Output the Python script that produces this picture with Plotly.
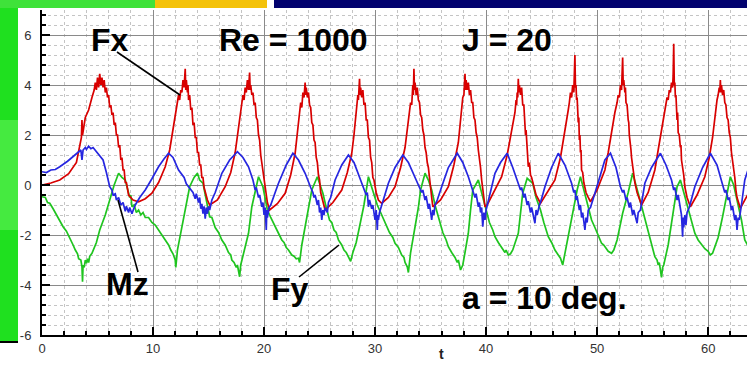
import plotly.graph_objects as go

# ---------------- data: (t, value) ----------------
fx_points = [
    (0.0, 0.0), (0.8, 0.08), (1.6, 0.2), (2.4, 0.45), (3.1, 0.9), (3.4, 1.5), (3.55, 1.9), (3.6, 2.6), (3.65, 2.0),
    (3.9, 2.7), (4.2, 3.0), (4.5, 3.5), (4.7, 3.8), (4.8, 4.1), (4.9, 3.8), (5.0, 4.3), (5.1, 3.9), (5.2, 4.45),
    (5.3, 4.0), (5.4, 4.3), (5.5, 3.9), (5.6, 4.2), (5.7, 3.7), (5.8, 3.9), (5.9, 3.5), (6.0, 3.6), (6.1, 3.1),
    (6.2, 3.2), (6.3, 2.8), (6.4, 2.9), (6.5, 2.4), (6.6, 2.5), (6.7, 2.0), (6.8, 2.0), (6.9, 1.5), (7.0, 1.6),
    (7.1, 1.0), (7.2, 1.1), (7.3, 0.6), (7.4, 0.6), (7.5, 0.1), (7.6, 0.1), (7.8, -0.4), (8.2, -0.6), (8.7, -0.67),
    (9.3, -0.55), (9.9, -0.33), (10.5, 0.1), (11.1, 0.73), (11.5, 1.4), (11.8, 2.2), (12.0, 2.9), (12.2, 3.3),
    (12.3, 3.6), (12.4, 3.4), (12.5, 3.8), (12.6, 3.7), (12.7, 4.2), (12.8, 3.9), (12.9, 4.65), (12.95, 3.8),
    (13.0, 4.2), (13.1, 3.7), (13.15, 4.0), (13.2, 3.4), (13.3, 3.6), (13.4, 3.0), (13.5, 3.1), (13.6, 2.4),
    (13.7, 2.5), (13.8, 1.9), (13.9, 1.9), (14.0, 1.3), (14.1, 1.3), (14.2, 0.8), (14.3, 0.8), (14.4, 0.3),
    (14.5, 0.3), (14.6, -0.1), (14.7, -0.3), (14.9, -0.6), (15.1, -0.8),
    (15.8, -0.6), (16.5, -0.07), (17.0, 0.5), (17.4, 1.3), (17.6, 2.0), (17.8, 2.7), (18.0, 3.2), (18.1, 3.6),
    (18.2, 3.4), (18.3, 3.9), (18.4, 3.7), (18.5, 4.2), (18.6, 3.8), (18.7, 4.5), (18.75, 3.8), (18.8, 4.0),
    (18.9, 3.6), (19.0, 3.7), (19.1, 3.2), (19.2, 3.3), (19.3, 2.7), (19.4, 2.6), (19.5, 2.0), (19.6, 1.8),
    (19.7, 1.2), (19.8, 0.9), (19.9, 0.4), (20.0, 0.3), (20.1, -0.2), (20.3, -0.7), (20.5, -1.0),
    (21.2, -0.75), (21.9, -0.33), (22.4, 0.4), (22.8, 1.27), (23.0, 2.1), (23.2, 2.9), (23.3, 3.3), (23.4, 3.1),
    (23.5, 3.7), (23.6, 3.5), (23.7, 4.1), (23.75, 3.6), (23.8, 3.9), (23.9, 3.5), (24.0, 3.7), (24.1, 3.2),
    (24.2, 3.1), (24.3, 2.5), (24.4, 2.4), (24.5, 1.8), (24.6, 1.7), (24.7, 1.1), (24.8, 0.9), (24.9, 0.4),
    (25.0, 0.2), (25.1, -0.3), (25.3, -0.7), (25.5, -1.0),
    (26.2, -0.7), (27.0, -0.2), (27.5, 0.5), (27.9, 1.27), (28.1, 2.0), (28.2, 2.5), (28.3, 3.0), (28.4, 3.2),
    (28.45, 3.6), (28.5, 3.4), (28.6, 4.25), (28.65, 3.6), (28.7, 3.9), (28.8, 3.5), (28.9, 3.8), (29.0, 3.2),
    (29.1, 3.3), (29.2, 2.6), (29.3, 2.6), (29.4, 1.9), (29.5, 1.8), (29.6, 1.1), (29.7, 0.9), (29.8, 0.3),
    (29.9, 0.2), (30.1, -0.3), (30.3, -0.6), (30.6, -0.73),
    (31.2, -0.5), (31.8, -0.07), (32.3, 0.7), (32.7, 1.5), (33.0, 2.5), (33.1, 2.8), (33.2, 3.3), (33.3, 3.2),
    (33.4, 4.0), (33.45, 3.6), (33.5, 4.65), (33.55, 3.8), (33.6, 4.1), (33.7, 3.6), (33.8, 3.9), (33.9, 3.4),
    (34.0, 3.3), (34.1, 2.8), (34.2, 2.7), (34.3, 2.2), (34.4, 2.0), (34.5, 1.5), (34.6, 1.3), (34.7, 0.9),
    (34.8, 0.7), (34.9, 0.3), (35.0, 0.0), (35.1, -0.5), (35.2, -0.87),
    (35.9, -0.6), (36.6, -0.07), (37.1, 0.8), (37.5, 1.7), (37.7, 2.6), (37.8, 3.0), (37.9, 3.5), (38.0, 3.6),
    (38.1, 4.45), (38.15, 3.8), (38.2, 4.2), (38.3, 3.8), (38.4, 4.1), (38.5, 3.6), (38.6, 3.8), (38.7, 3.3),
    (38.8, 3.3), (38.9, 2.7), (39.0, 2.6), (39.1, 2.1), (39.2, 1.9), (39.3, 1.4), (39.4, 1.1), (39.5, 0.7),
    (39.6, 0.2), (39.7, -0.2), (39.9, -0.87),
    (40.1, -0.8), (40.7, -0.3), (41.4, 0.33), (41.9, 1.2), (42.3, 2.1), (42.6, 2.9), (42.7, 3.4), (42.75, 3.2),
    (42.8, 3.7), (42.85, 3.5), (42.9, 4.25), (42.95, 3.7), (43.0, 4.0), (43.1, 3.6), (43.2, 3.9), (43.3, 3.2),
    (43.4, 3.2), (43.5, 2.6), (43.55, 2.0), (43.6, 2.2), (43.7, 1.4), (43.8, 0.73), (43.9, 0.9), (44.0, 0.4),
    (44.1, 0.3), (44.3, -0.1), (44.5, -0.4), (44.9, -0.73),
    (45.5, -0.3), (46.2, 0.2), (46.7, 1.1), (47.1, 2.1), (47.4, 3.0), (47.5, 3.3), (47.6, 3.7), (47.7, 3.5),
    (47.8, 4.0), (47.9, 3.7), (47.95, 4.3), (48.0, 5.2), (48.05, 3.9), (48.1, 4.0), (48.15, 3.4), (48.2, 3.5),
    (48.3, 2.5), (48.35, 2.7), (48.4, 1.8), (48.45, 2.0), (48.5, 1.3), (48.55, 1.4), (48.6, 0.6), (48.7, 0.5),
    (48.8, 0.1), (49.0, -0.3), (49.2, -0.5), (49.4, -0.67),
    (50.0, -0.2), (50.7, 0.6), (51.0, 1.3), (51.3, 2.2), (51.6, 2.9), (51.8, 3.3), (51.9, 3.6), (52.0, 3.5),
    (52.1, 4.0), (52.2, 3.8), (52.25, 4.3), (52.3, 5.1), (52.35, 4.0), (52.4, 4.2), (52.5, 3.7), (52.55, 3.9),
    (52.6, 3.3), (52.7, 3.2), (52.8, 2.6), (52.85, 2.5), (52.9, 2.0), (53.0, 1.7), (53.05, 1.4), (53.1, 1.1),
    (53.2, 0.73), (53.3, 0.5), (53.4, 0.1), (53.6, -0.3), (53.8, -0.6), (54.0, -0.8),
    (54.6, -0.3), (55.2, 0.6), (55.5, 1.4), (55.8, 2.2), (56.1, 3.0), (56.3, 3.5), (56.4, 3.4), (56.5, 3.8),
    (56.6, 3.7), (56.7, 4.1), (56.8, 3.9), (56.85, 4.4), (56.9, 5.65), (56.95, 4.0), (57.0, 4.1), (57.05, 3.5),
    (57.1, 3.6), (57.2, 2.6), (57.25, 2.9), (57.3, 2.1), (57.4, 2.0), (57.5, 1.5), (57.55, 1.6), (57.6, 1.0),
    (57.7, 0.73), (57.8, 0.4), (57.9, -0.07), (58.1, -0.5), (58.4, -0.87),
    (59.0, -0.4), (59.7, 0.33), (60.1, 1.1), (60.4, 1.9), (60.6, 2.7), (60.8, 3.4), (60.9, 3.6), (61.0, 3.9),
    (61.05, 3.7), (61.1, 4.2), (61.15, 3.7), (61.2, 4.0), (61.3, 3.6), (61.4, 3.8), (61.5, 3.3), (61.6, 3.2),
    (61.7, 2.7), (61.8, 2.6), (61.9, 2.1), (62.0, 1.9), (62.1, 1.3), (62.2, 1.0), (62.3, 0.5), (62.4, 0.3),
    (62.5, -0.2), (62.6, -0.5), (62.9, -0.93), (63.3, -0.6), (63.8, -0.2),
]

mz_points = [
    (0.0, 0.53), (0.4, 0.5), (0.8, 0.6), (1.2, 0.62), (1.6, 0.73), (2.0, 0.85), (2.3, 0.95), (2.7, 1.1), (3.0, 1.2),
    (3.3, 1.3), (3.5, 1.4), (3.6, 1.0), (3.7, 1.4), (3.9, 1.5), (4.0, 1.42), (4.2, 1.55), (4.4, 1.45), (4.6, 1.5),
    (4.9, 1.33), (5.2, 1.2), (5.5, 1.0), (5.8, 0.5), (6.1, -0.07), (6.3, -0.2), (6.4, -0.4), (6.6, -0.35),
    (6.7, -0.6), (6.9, -0.5), (7.1, -0.8), (7.3, -0.7), (7.5, -1.05), (7.6, -0.85), (7.8, -1.1), (7.9, -0.9),
    (8.1, -1.15), (8.3, -0.9), (8.4, -0.8), (8.8, -0.5), (9.3, -0.2), (9.9, 0.25), (10.5, 0.73), (11.0, 1.05),
    (11.4, 1.27), (11.8, 1.1), (12.3, 0.6), (12.8, 0.3), (13.0, 0.05), (13.2, -0.07), (13.4, -0.2), (13.6, -0.3),
    (13.8, -0.55), (13.9, -0.35), (14.1, -0.7), (14.2, -0.5), (14.3, -0.95), (14.4, -0.75), (14.5, -1.15),
    (14.6, -0.85), (14.7, -1.35), (14.8, -0.9), (14.9, -1.15), (15.0, -0.85), (15.1, -1.0), (15.3, -0.6),
    (15.6, -0.3), (16.2, 0.47), (16.9, 1.0), (17.6, 1.33), (18.1, 1.1), (18.6, 0.73), (19.0, 0.2), (19.2, -0.2),
    (19.3, -0.1), (19.5, -0.5), (19.6, -0.4), (19.8, -0.87), (19.9, -0.7), (20.0, -1.2), (20.1, -0.9),
    (20.2, -1.8), (20.25, -1.0), (20.3, -1.3), (20.45, -0.9), (20.6, -0.8), (21.0, -0.3), (21.3, 0.07),
    (22.0, 0.8), (22.6, 1.27), (23.1, 1.0), (23.7, 0.47), (24.2, -0.1), (24.4, -0.3), (24.5, -0.5), (24.6, -0.4),
    (24.8, -0.8), (24.9, -0.6), (25.0, -1.1), (25.1, -0.9), (25.2, -1.4), (25.3, -1.0), (25.4, -1.2),
    (25.5, -0.9), (25.7, -1.1), (25.8, -0.7), (26.0, -0.5), (26.4, 0.2), (27.0, 0.8), (27.6, 1.2), (28.1, 0.9),
    (28.6, 0.33), (29.0, -0.2), (29.2, -0.4), (29.3, -0.3), (29.4, -0.87), (29.5, -0.6), (29.7, -0.95),
    (29.8, -0.8), (30.0, -1.4), (30.1, -1.0), (30.2, -1.8), (30.25, -1.2), (30.3, -1.4), (30.4, -1.1),
    (30.6, -0.8), (30.8, -0.5), (31.2, 0.07), (31.8, 0.7), (32.5, 1.2), (33.0, 0.9), (33.6, 0.33), (34.0, -0.1),
    (34.2, -0.3), (34.3, -0.2), (34.5, -0.6), (34.6, -0.45), (34.8, -0.95), (34.9, -0.75), (35.0, -1.2),
    (35.1, -1.4), (35.2, -1.0), (35.3, -1.2), (35.4, -0.8), (35.6, -0.6), (36.0, -0.07), (36.6, 0.7),
    (37.4, 1.27), (37.9, 0.9), (38.4, 0.33), (38.9, -0.3), (39.0, -0.5), (39.1, -0.35), (39.3, -0.87),
    (39.4, -0.7), (39.5, -1.1), (39.6, -0.9), (39.7, -1.67), (39.8, -1.1), (39.9, -1.4), (40.0, -1.0),
    (40.2, -0.6), (40.8, 0.47), (41.3, 0.9), (41.9, 1.27), (42.4, 0.7), (42.9, 0.07), (43.1, -0.2), (43.2, -0.1),
    (43.4, -0.5), (43.5, -0.35), (43.7, -0.8), (43.8, -0.65), (44.0, -1.1), (44.1, -0.9), (44.3, -1.3),
    (44.4, -1.53), (44.5, -1.0), (44.6, -1.2), (44.8, -0.8), (44.9, -0.7), (45.3, -0.07), (45.9, 0.7),
    (46.5, 1.27), (47.1, 0.8), (47.7, 0.07), (47.9, -0.3), (48.0, -0.2), (48.1, -0.6), (48.2, -0.45),
    (48.4, -1.0), (48.5, -0.8), (48.6, -1.3), (48.7, -1.1), (48.8, -1.5), (48.9, -1.8), (49.0, -1.3),
    (49.1, -1.5), (49.2, -1.0), (49.4, -0.9), (49.8, -0.33), (50.2, 0.3), (50.7, 1.0), (51.2, 1.27), (51.7, 0.7),
    (52.1, -0.07), (52.3, -0.3), (52.4, -0.2), (52.6, -0.6), (52.7, -0.5), (52.9, -0.9), (53.0, -0.7),
    (53.2, -1.2), (53.3, -1.0), (53.5, -1.4), (53.6, -1.53), (53.7, -1.1), (53.9, -1.0), (54.3, 0.07),
    (54.9, 0.7), (55.7, 1.27), (56.2, 0.8), (56.7, 0.2), (56.9, -0.2), (57.0, -0.1), (57.2, -0.6), (57.3, -0.4),
    (57.5, -0.87), (57.6, -1.2), (57.7, -2.07), (57.75, -1.3), (57.8, -1.7), (57.9, -1.2), (58.0, -1.6),
    (58.1, -1.1), (58.3, -0.9), (58.8, -0.07), (59.5, 0.7), (60.2, 1.27), (60.8, 0.8), (61.3, 0.07),
    (61.5, -0.3), (61.6, -0.2), (61.8, -0.6), (61.9, -0.5), (62.1, -1.0), (62.2, -0.85), (62.4, -1.4),
    (62.5, -1.2), (62.6, -1.8), (62.7, -1.3), (62.8, -1.4), (63.0, -0.8), (63.1, -0.4), (63.3, 0.2), (63.8, 0.9),
]

fy_points = [
    (0.0, -0.47), (0.3, -0.5), (0.5, -0.7), (0.7, -0.73), (1.0, -0.95), (1.3, -1.2), (1.6, -1.4), (1.9, -1.67),
    (2.2, -1.85), (2.5, -2.1), (2.8, -2.4), (3.0, -2.6), (3.2, -2.75), (3.3, -2.95), (3.5, -3.0), (3.6, -3.27),
    (3.65, -3.87), (3.7, -3.2), (3.8, -3.3), (3.9, -3.0), (4.0, -3.13), (4.1, -2.95), (4.2, -3.1), (4.3, -2.85),
    (4.5, -2.73), (4.9, -2.3), (5.2, -1.8), (5.7, -1.2), (6.1, -0.6), (6.5, 0.0), (6.9, 0.47), (7.2, 0.3),
    (7.5, 0.2), (7.8, -0.3), (7.9, -0.5), (8.0, -0.4), (8.1, -0.87), (8.3, -0.8), (8.5, -1.1), (8.7, -1.0),
    (8.9, -1.2), (9.1, -1.1), (9.3, -1.3), (9.6, -1.3), (9.9, -1.5), (10.2, -1.6), (10.5, -1.8), (10.8, -2.0),
    (11.1, -2.2), (11.4, -2.4), (11.6, -2.6), (11.8, -2.75), (12.0, -3.0), (12.05, -3.3), (12.2, -2.6),
    (12.5, -1.9), (12.7, -1.4), (13.0, -0.7), (13.3, -0.07), (13.7, 0.3), (14.0, 0.47), (14.2, 0.2), (14.5, 0.07),
    (14.8, -0.6), (15.0, -1.0), (15.1, -1.27), (15.3, -1.3), (15.6, -1.7), (15.9, -1.9), (16.2, -2.2),
    (16.5, -2.4), (16.8, -2.7), (17.0, -2.8), (17.1, -3.0), (17.3, -3.1), (17.5, -3.3), (17.6, -3.2),
    (17.7, -3.4), (17.8, -3.67), (17.9, -3.2), (18.0, -3.0), (18.3, -2.47), (18.6, -1.93), (18.9, -0.87),
    (19.2, -0.2), (19.5, 0.33), (19.9, -0.07), (20.1, -0.6), (20.3, -1.0), (20.6, -1.3), (20.8, -1.5),
    (21.1, -1.8), (21.3, -1.93), (21.6, -2.2), (21.8, -2.3), (22.0, -2.5), (22.2, -2.6), (22.5, -2.8),
    (22.7, -2.85), (22.9, -2.95), (23.1, -2.93), (23.2, -3.1), (23.4, -2.4), (23.7, -1.67), (24.0, -0.9),
    (24.3, -0.2), (24.8, 0.33), (25.3, -0.33), (25.6, -0.9), (25.9, -1.4), (26.1, -1.5), (26.3, -1.8),
    (26.5, -1.9), (26.7, -2.2), (27.0, -2.4), (27.2, -2.6), (27.4, -2.7), (27.6, -2.85), (27.7, -2.93),
    (27.8, -3.05), (28.0, -2.7), (28.3, -2.3), (28.6, -1.67), (29.0, -0.8), (29.4, 0.33), (29.7, -0.1),
    (30.0, -0.6), (30.2, -0.8), (30.5, -1.1), (30.7, -1.3), (30.9, -1.53), (31.1, -1.7), (31.3, -1.9),
    (31.6, -2.1), (31.8, -2.33), (32.1, -2.5), (32.4, -2.8), (32.6, -2.9), (32.7, -3.1), (32.9, -3.27),
    (33.0, -3.5), (33.2, -2.7), (33.6, -1.67), (33.9, -0.9), (34.1, -0.2), (34.5, 0.47), (34.8, 0.2),
    (35.1, -0.2), (35.4, -0.8), (35.7, -1.27), (35.9, -1.5), (36.1, -1.9), (36.4, -2.2), (36.6, -2.47),
    (36.9, -2.7), (37.2, -2.9), (37.4, -3.1), (37.5, -3.0), (37.7, -3.4), (37.9, -3.2), (38.1, -2.7),
    (38.4, -1.93), (38.6, -1.0), (38.8, -0.2), (39.3, 0.2), (39.6, -0.3), (39.9, -0.87), (40.1, -1.2),
    (40.3, -1.5), (40.6, -1.8), (40.8, -2.07), (41.1, -2.3), (41.4, -2.5), (41.7, -2.7), (41.8, -2.6),
    (42.0, -2.8), (42.2, -2.75), (42.4, -2.6), (42.9, -1.93), (43.1, -1.1), (43.3, -0.33), (43.7, 0.27),
    (44.2, 0.07), (44.5, -0.5), (44.9, -1.0), (45.2, -1.5), (45.6, -2.07), (45.9, -2.3), (46.2, -2.6),
    (46.5, -2.8), (46.7, -2.93), (46.9, -3.2), (47.2, -2.5), (47.6, -1.67), (47.9, -0.9), (48.2, -0.2),
    (48.5, 0.33), (48.9, -0.33), (49.2, -0.9), (49.5, -1.4), (49.8, -1.7), (50.0, -1.9), (50.2, -2.1),
    (50.4, -2.33), (50.6, -2.4), (50.7, -2.47), (51.0, -2.65), (51.3, -2.73), (51.5, -2.6), (51.8, -2.2),
    (52.3, -1.13), (52.8, -0.3), (53.2, 0.47), (53.7, -0.33), (54.1, -1.0), (54.5, -1.67), (54.8, -2.2),
    (55.0, -2.5), (55.2, -2.87), (55.4, -3.0), (55.5, -3.2), (55.6, -3.1), (55.7, -3.4), (55.8, -3.7),
    (55.9, -3.3), (56.0, -3.2), (56.4, -2.4), (56.7, -1.53), (57.0, -0.7), (57.2, -0.07), (57.5, 0.2),
    (57.8, -0.3), (58.1, -0.87), (58.5, -1.5), (58.8, -1.93), (59.1, -2.2), (59.4, -2.4), (59.7, -2.55),
    (60.0, -2.65), (60.2, -2.8), (60.4, -2.73), (60.6, -2.5), (60.9, -2.1), (61.3, -1.27), (61.7, -0.4),
    (62.0, 0.33), (62.3, 0.0), (62.6, -0.6), (63.0, -1.4), (63.3, -2.2), (63.8, -2.6),
]

fx_t = [p[0] for p in fx_points]
fx_v = [p[1] for p in fx_points]
mz_t = [p[0] for p in mz_points]
mz_v = [p[1] for p in mz_points]
fy_t = [p[0] for p in fy_points]
fy_v = [p[1] for p in fy_points]

x_ticks = [0, 10, 20, 30, 40, 50, 60]
y_ticks = [-6, -4, -2, 0, 2, 4, 6]

# ---------------- geometry helpers (pixel -> coords) ----------------
W, H = 747, 366
L, R_PX, T_PX, B_PX = 42, 747, 10, 335
XR = [0, 63.5]
YR = [-6, 7]


def px2x(px):
    return XR[0] + (px - L) / (R_PX - L) * (XR[1] - XR[0])


def px2y(py):
    return YR[0] + (B_PX - py) / (B_PX - T_PX) * (YR[1] - YR[0])


def ppx(px):
    return (px - L) / (R_PX - L)


def ppy(py):
    return (B_PX - py) / (B_PX - T_PX)


fig = go.Figure()
fig.add_trace(go.Scatter(x=fy_t, y=fy_v, mode="lines", line=dict(color="#1fc41f", width=1.7), name="Fy"))
fig.add_trace(go.Scatter(x=fx_t, y=fx_v, mode="lines", line=dict(color="#d80000", width=1.7), name="Fx"))
fig.add_trace(go.Scatter(x=mz_t, y=mz_v, mode="lines", line=dict(color="#2626e0", width=1.7), name="Mz"))

shapes = []
# background decoration (slide behind the chart)
shapes.append(dict(type="rect", xref="paper", yref="paper", x0=ppx(0), x1=ppx(18), y0=ppy(342), y1=ppy(0),
                   fillcolor="#1fe01f", line=dict(width=0), layer="below"))
shapes.append(dict(type="rect", xref="paper", yref="paper", x0=ppx(0), x1=ppx(18), y0=ppy(230), y1=ppy(120),
                   fillcolor="#45ea40", line=dict(width=0), layer="below"))
shapes.append(dict(type="rect", xref="paper", yref="paper", x0=ppx(0), x1=ppx(155), y0=ppy(8), y1=ppy(0),
                   fillcolor="#3fe23a", line=dict(width=0), layer="below"))
shapes.append(dict(type="rect", xref="paper", yref="paper", x0=ppx(155), x1=ppx(267), y0=ppy(8), y1=ppy(0),
                   fillcolor="#f4c20a", line=dict(width=0), layer="below"))
shapes.append(dict(type="rect", xref="paper", yref="paper", x0=ppx(274), x1=ppx(747), y0=ppy(8), y1=ppy(0),
                   fillcolor="#02026e", line=dict(width=0), layer="below"))
shapes.append(dict(type="line", xref="paper", yref="paper", x0=ppx(0), x1=ppx(18), y0=ppy(342), y1=ppy(342),
                   line=dict(color="black", width=2), layer="below"))

# leader lines for labels
for (a, b, c, d) in [(117, 52, 180, 95), (118, 200, 138, 272), (299, 277, 339, 245)]:
    shapes.append(dict(type="line", xref="x", yref="y", x0=px2x(a), y0=px2y(b), x1=px2x(c), y1=px2y(d),
                       line=dict(color="black", width=1.6)))

fig.update_layout(shapes=shapes)

big = dict(family="Liberation Sans, Arial, sans-serif", size=32, color="black")
for txt, cx, cy in [("<b>Fx</b>", 110, 40), ("<b>Re = 1000</b>", 293, 40), ("<b>J = 20</b>", 507, 40),
                    ("<b>Mz</b>", 127, 284), ("<b>Fy</b>", 290, 289), ("<b>a = 10 deg.</b>", 544, 298)]:
    fig.add_annotation(x=px2x(cx), y=px2y(cy), xref="x", yref="y", text=txt, showarrow=False,
                       font=big, xanchor="center", yanchor="middle")

fig.add_annotation(x=px2x(441), y=ppy(354), xref="x", yref="paper", text="<b>t</b>", showarrow=False,
                   font=dict(family="Liberation Sans, Arial, sans-serif", size=14, color="#222"),
                   xanchor="center", yanchor="middle")

axis_common = dict(showline=True, linecolor="black", linewidth=2, ticks="inside", ticklen=8, tickwidth=1.5,
                   tickcolor="black", showgrid=True, gridcolor="#8a8a8a", gridwidth=1, zeroline=False,
                   tickfont=dict(family="Liberation Sans, Arial, sans-serif", size=13, color="#333"))

fig.update_xaxes(range=XR, tickvals=x_ticks, ticktext=[str(v) for v in x_ticks],
                 minor=dict(dtick=2, tick0=0, showgrid=True, gridcolor="#c4c4c4", griddash="dot",
                            ticks="inside", ticklen=4, tickcolor="black"),
                 **axis_common)
fig.update_yaxes(range=YR, tickvals=y_ticks, ticktext=[str(v) for v in y_ticks],
                 minor=dict(dtick=0.4, tick0=0, showgrid=True, gridcolor="#c4c4c4", griddash="dot",
                            ticks="inside", ticklen=4, tickcolor="black"),
                 ticklabelstandoff=6, **axis_common)

fig.update_layout(width=W, height=H, margin=dict(l=L, r=W - R_PX, t=T_PX, b=H - B_PX),
                  paper_bgcolor="white", plot_bgcolor="white", showlegend=False)

fig.write_html("out.html", config={"displayModeBar": False},
               post_script="document.body.style.margin='0';document.body.style.padding='0';")
